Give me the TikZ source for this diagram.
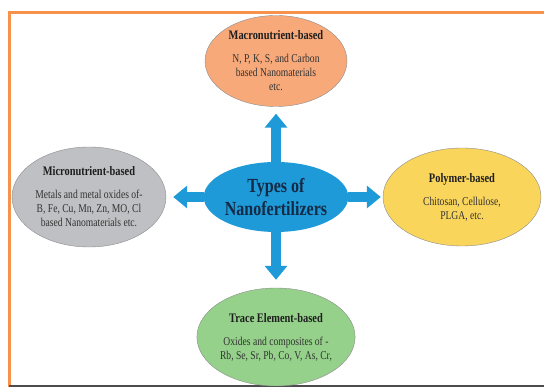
\documentclass[tikz,border=0pt]{standalone}
\usepackage{fontspec}
\setmainfont{Liberation Serif}[FakeStretch=0.8]
\usetikzlibrary{positioning,shapes.geometric,arrows.meta}

\definecolor{framecol}{HTML}{F6924C}
\definecolor{hubblue}{HTML}{1F9AD8}
\definecolor{hubtext}{HTML}{142A45}
\definecolor{macrocol}{HTML}{F7A97A}
\definecolor{microcol}{HTML}{BFC0C3}
\definecolor{polycol}{HTML}{F9D55B}
\definecolor{tracecol}{HTML}{95D18A}
\definecolor{rimgray}{HTML}{8C8C8C}
\definecolor{bodytxt}{HTML}{333333}
\definecolor{titletxt}{HTML}{1E1E1E}

\newcommand{\kindtitle}[1]{{\fontsize{13}{15}\selectfont\bfseries\color{titletxt}#1}}

\begin{document}
\begin{tikzpicture}[x=1pt, y=-1pt, node distance=140pt,
    every node/.style={font=\fontsize{12}{14}\selectfont, text=bodytxt},
    kind/.style={ellipse, draw=rimgray, line width=0.4pt, inner sep=0pt, align=center, minimum width=154pt, minimum height=98pt},
    bigarrow/.style={draw=hubblue, line width=10pt, -{Triangle[width=22pt,length=14pt]}}]

    \useasboundingbox (0,0) rectangle (544,387);

    % Frame
    \draw[framecol, line width=3pt] (9,387) -- (9,13) -- (544,13);
    \draw[black!70, line width=1.2pt] (9,386) -- (544,386);

    % Centre node
    \node (hub) at (276,197) [ellipse, fill=hubblue, inner sep=0pt, align=center, minimum width=112pt, minimum height=70pt, text=hubtext, font=\fontsize{20}{23}\selectfont\bfseries] {Types of\\Nanofertilizers};

    % Four kinds round the centre
    \node (macro) [kind, fill=macrocol, above of=hub, yshift=-4pt, minimum width=142pt, minimum height=91pt] {\kindtitle{Macronutrient-based}\\[9pt] N, P, K, S, and Carbon\\ based Nanomaterials\\ etc.};
    \node (micro) [kind, fill=microcol, left of=hub, xshift=-47pt, minimum height=100pt] {\kindtitle{Micronutrient-based}\\[9pt] Metals and metal oxides of-\\ B, Fe, Cu, Mn, Zn, MO, Cl\\ based Nanomaterials etc.};
    \node (poly) [kind, fill=polycol, right of=hub, xshift=46pt, minimum width=158pt] {\kindtitle{Polymer-based}\\[9pt] Chitosan, Cellulose,\\ PLGA, etc.};
    \node (trace) [kind, fill=tracecol, below of=hub] {\kindtitle{Trace Element-based}\\[9pt] Oxides and composites of -\\ Rb, Se, Sr, Pb, Co, V, As, Cr,};

    % Arrows out of the centre
    \draw[bigarrow, shorten >=7pt] (hub) -- (macro);
    \draw[bigarrow, shorten >=7pt] (hub) -- (micro);
    \draw[bigarrow, shorten >=2pt] (hub) -- (poly);
    \draw[bigarrow, shorten >=8pt] (hub) -- (trace);

\end{tikzpicture}
\end{document}
